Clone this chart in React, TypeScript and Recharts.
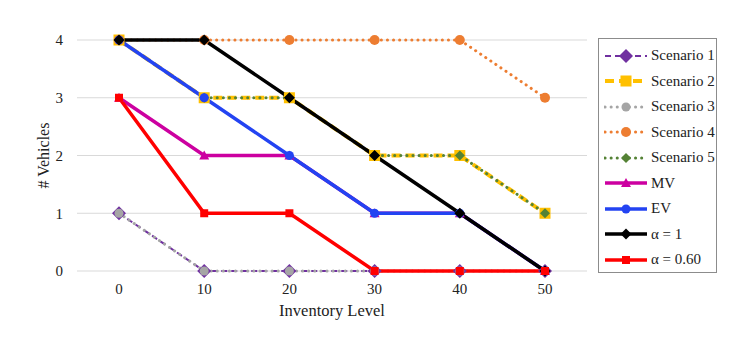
import { LineChart, Line, XAxis, YAxis, CartesianGrid, Label } from 'recharts';

const levels = [0, 10, 20, 30, 40, 50];
const scenario1 = [1, 0, 0, 0, 0, 0];
const scenario2 = [4, 3, 3, 2, 2, 1];
const scenario3 = [1, 0, 0, 0, 0, 0];
const scenario4 = [4, 4, 4, 4, 4, 3];
const scenario5 = [4, 3, 3, 2, 2, 1];
const mv = [3, 2, 2, 1, 1, 0];
const ev = [4, 3, 2, 1, 1, 0];
const alpha1 = [4, 4, 3, 2, 1, 0];
const alpha060 = [3, 1, 1, 0, 0, 0];
const yTicks = [0, 1, 2, 3, 4];

const data = levels.map((lvl, i) => ({
	level: lvl,
	s1: scenario1[i],
	s2: scenario2[i],
	s3: scenario3[i],
	s4: scenario4[i],
	s5: scenario5[i],
	mv: mv[i],
	ev: ev[i],
	a1: alpha1[i],
	a06: alpha060[i],
}));

const FONT = '"Liberation Serif", "DejaVu Serif", serif';

type Shape = 'diamond' | 'square' | 'circle' | 'triangle';

function marker(shape: Shape, size: number, fill: string) {
	return (cx: number, cy: number, key?: string) => {
		const h = size / 2;
		if (shape === 'circle') return <circle key={key} cx={cx} cy={cy} r={h} fill={fill} />;
		if (shape === 'square')
			return <rect key={key} x={cx - h} y={cy - h} width={size} height={size} fill={fill} />;
		if (shape === 'triangle')
			return (
				<polygon
					key={key}
					points={`${cx},${cy - h} ${cx + h},${cy + h * 0.8} ${cx - h},${cy + h * 0.8}`}
					fill={fill}
				/>
			);
		return (
			<polygon
				key={key}
				points={`${cx},${cy - h} ${cx + h},${cy} ${cx},${cy + h} ${cx - h},${cy}`}
				fill={fill}
			/>
		);
	};
}

const series = [
	{ key: 's1', name: 'Scenario 1', color: '#7030A0', width: 2, dash: '6 4', cap: 'butt', mark: marker('diamond', 14, '#7030A0') },
	{ key: 's2', name: 'Scenario 2', color: '#FFC000', width: 4, dash: '9 5', cap: 'butt', mark: marker('square', 11, '#FFC000') },
	{ key: 's3', name: 'Scenario 3', color: '#A5A5A5', width: 3, dash: '0.1 6', cap: 'round', mark: marker('circle', 9, '#A5A5A5') },
	{ key: 's4', name: 'Scenario 4', color: '#ED7D31', width: 3, dash: '0.1 6', cap: 'round', mark: marker('circle', 10, '#ED7D31') },
	{ key: 's5', name: 'Scenario 5', color: '#548235', width: 3, dash: '0.1 6', cap: 'round', mark: marker('diamond', 10, '#548235') },
	{ key: 'mv', name: 'MV', color: '#CC00A0', width: 3.5, dash: undefined, cap: 'butt', mark: marker('triangle', 10, '#CC00A0') },
	{ key: 'ev', name: 'EV', color: '#2343F2', width: 3.5, dash: undefined, cap: 'butt', mark: marker('circle', 9, '#2343F2') },
	{ key: 'a1', name: 'α = 1', color: '#000000', width: 3.5, dash: undefined, cap: 'butt', mark: marker('diamond', 11, '#000000') },
	{ key: 'a06', name: 'α = 0.60', color: '#FF0000', width: 3.5, dash: undefined, cap: 'butt', mark: marker('square', 8, '#FF0000') },
];

function LegendBox() {
	return (
		<div
			style={{
				position: 'absolute',
				left: 590,
				top: 30,
				border: '1.5px solid #8c8c8c',
				width: 119,
				height: 235,
				padding: '4px 0 0 5px',
				boxSizing: 'border-box',
				fontFamily: FONT,
				fontSize: 15,
				color: '#222',
				background: '#fff',
			}}
		>
			{series.map((s) => (
				<div key={s.key} style={{ display: 'flex', alignItems: 'center', height: 25.5 }}>
					<svg width={44} height={14} style={{ marginRight: 3 }}>
						<line
							x1={1}
							y1={7}
							x2={43}
							y2={7}
							stroke={s.color}
							strokeWidth={s.width}
							strokeDasharray={s.dash}
							strokeLinecap={s.cap as any}
						/>
						{s.mark(22, 7)}
					</svg>
					<span>{s.name}</span>
				</div>
			))}
		</div>
	);
}

export default function App() {
	return (
		<div style={{ position: 'relative', width: 720, height: 330 }}>
			<LineChart
				width={720}
				height={330}
				data={data}
				margin={{ top: 32, right: 141, left: 0, bottom: 17 }}
				style={{ fontFamily: FONT }}
			>
				<CartesianGrid stroke="#d9d9d9" vertical={false} />
				<XAxis
					dataKey="level"
					type="category"
					padding={{ left: 42, right: 42 }}
					axisLine={false}
					tickLine={false}
					tickSize={0}
					tickMargin={12}
					height={50}
					tick={{ fill: '#222', fontSize: 15, fontFamily: FONT }}
				>
					<Label value="Inventory Level" position="insideBottom" offset={5} style={{ fill: '#222', fontSize: 16.5, fontFamily: FONT }} />
				</XAxis>
				<YAxis
					domain={[0, 4]}
					ticks={yTicks}
					width={69}
					axisLine={false}
					tickLine={false}
					tickSize={0}
					tickMargin={14}
					tick={{ fill: '#222', fontSize: 15, fontFamily: FONT }}
				>
					<Label
						content={({ viewBox }: any) => {
							const x = viewBox.x + 35;
							const y = viewBox.y + viewBox.height / 2;
							return (
								<text
									x={x}
									y={y}
									transform={`rotate(-90 ${x} ${y})`}
									textAnchor="middle"
									dominantBaseline="central"
									style={{ fill: '#222', fontSize: 16, fontFamily: FONT }}
								>
									# Vehicles
								</text>
							);
						}}
					/>
				</YAxis>
				{series.map((s) => (
					<Line
						key={s.key}
						dataKey={s.key}
						name={s.name}
						stroke={s.color}
						strokeWidth={s.width}
						strokeDasharray={s.dash}
						strokeLinecap={s.cap as any}
						isAnimationActive={false}
						activeDot={false}
						dot={(p: any) => s.mark(p.cx, p.cy, `${s.key}-${p.index}`)}
					/>
				))}
			</LineChart>
			<LegendBox />
		</div>
	);
}
